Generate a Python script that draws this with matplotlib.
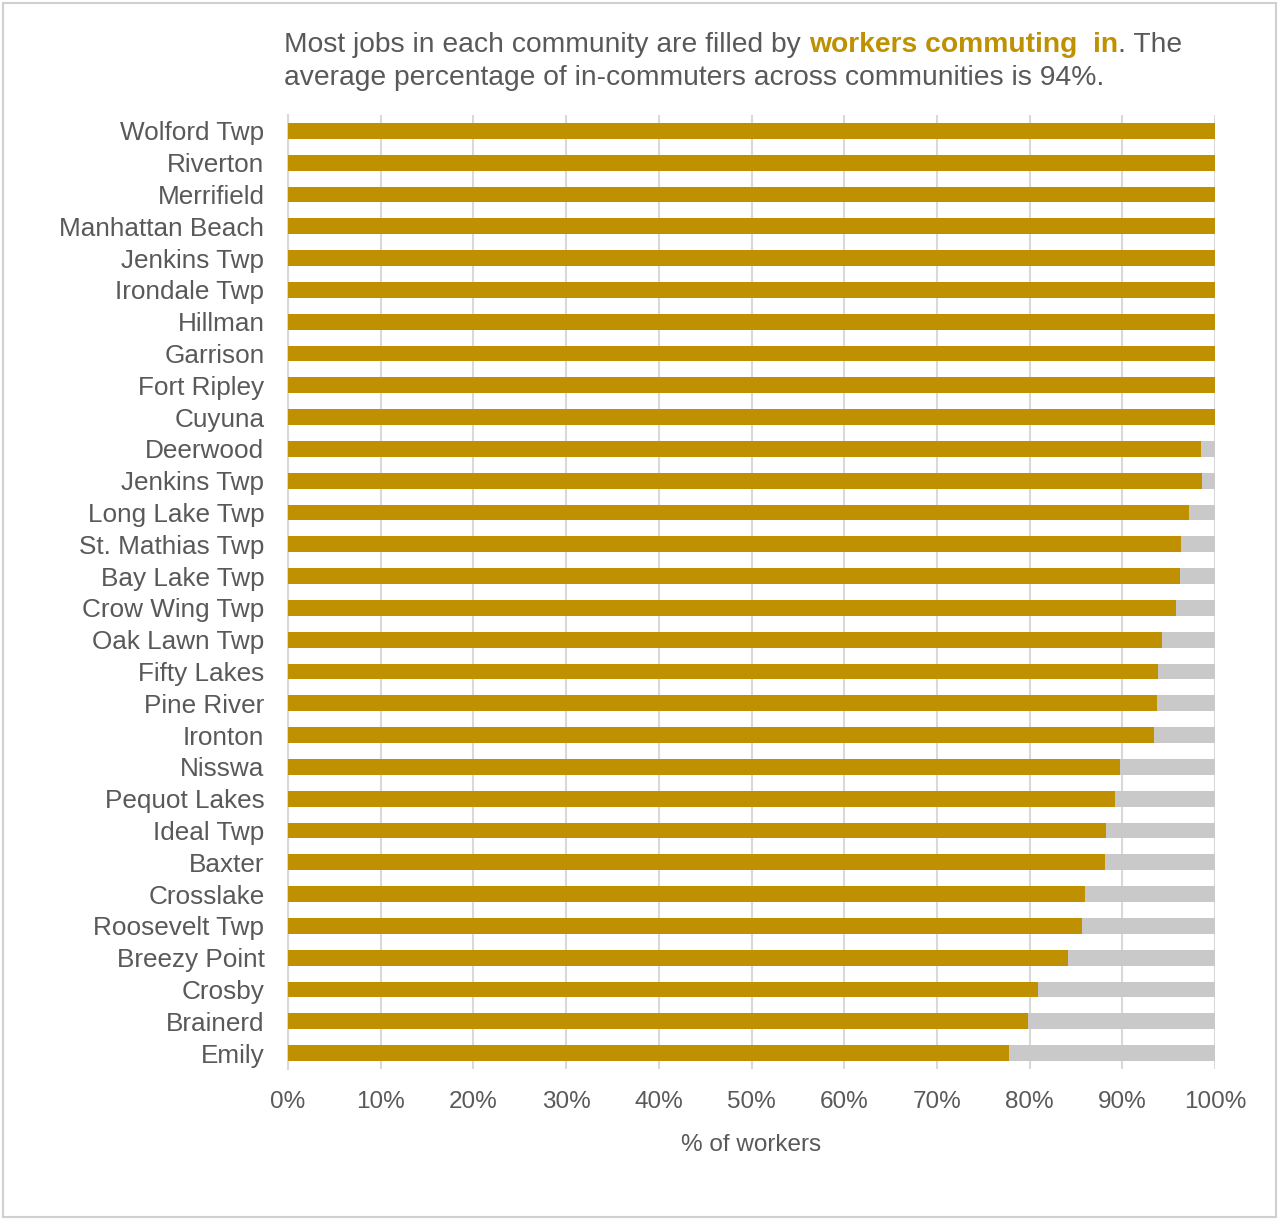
import matplotlib
matplotlib.use("Agg")
import matplotlib.pyplot as plt
from matplotlib.patches import Rectangle
import numpy as np

communities = ["Wolford Twp", "Riverton", "Merrifield", "Manhattan Beach", "Jenkins Twp",
               "Irondale Twp", "Hillman", "Garrison", "Fort Ripley", "Cuyuna", "Deerwood",
               "Jenkins Twp", "Long Lake Twp", "St. Mathias Twp", "Bay Lake Twp",
               "Crow Wing Twp", "Oak Lawn Twp", "Fifty Lakes", "Pine River", "Ironton",
               "Nisswa", "Pequot Lakes", "Ideal Twp", "Baxter", "Crosslake",
               "Roosevelt Twp", "Breezy Point", "Crosby", "Brainerd", "Emily"]
commuting_in = [100, 100, 100, 100, 100, 100, 100, 100, 100, 100,
                98.5, 98.6, 97.2, 96.3, 96.2, 95.8, 94.3, 93.9, 93.7, 93.4,
                89.8, 89.2, 88.2, 88.1, 86.0, 85.7, 84.1, 80.9, 79.8, 77.8]
other = [100 - v for v in commuting_in]
xticks = [0, 10, 20, 30, 40, 50, 60, 70, 80, 90, 100]
xtick_labels = [f"{t}%" for t in xticks]

GOLD = "#BF9000"
GREY = "#C9C9C9"
TXT = "#595959"
FONT = "Liberation Sans"
plt.rcParams["font.family"] = [FONT, "DejaVu Sans"]

W, H = 1279, 1220
fig = plt.figure(figsize=(W / 100, H / 100), dpi=100)
fig.patch.set_facecolor("white")
# figure border
fig.add_artist(Rectangle((3 / W, 3 / H), (W - 6) / W, (H - 6) / H, transform=fig.transFigure,
                         fill=False, edgecolor="#D0D0D0", linewidth=1.5))

left, right, top, bottom = 288, 1215, 115, 1069
ax = fig.add_axes([left / W, 1 - bottom / H, (right - left) / W, (bottom - top) / H])

y = np.arange(len(communities))
ax.barh(y, commuting_in, height=0.5, color=GOLD, zorder=3)
ax.barh(y, other, left=commuting_in, height=0.5, color=GREY, zorder=3)
ax.set_ylim(len(communities) - 0.5, -0.5)
ax.set_xlim(0, 100)
ax.set_yticks(y)
ax.set_yticklabels(communities, fontsize=18.8, color=TXT)
ax.set_xticks(xticks)
ax.set_xticklabels(xtick_labels, fontsize=17.5, color=TXT)
ax.tick_params(axis="both", length=0)
ax.tick_params(axis="y", pad=17)
ax.tick_params(axis="x", pad=16)
ax.xaxis.grid(True, color="#D9D9D9", linewidth=1.5, zorder=0)
for s in ["top", "right", "bottom"]:
    ax.spines[s].set_visible(False)
ax.spines["left"].set_color("#D9D9D9")
ax.spines["left"].set_linewidth(1.5)
ax.set_xlabel("% of workers", fontsize=17.5, color=TXT, labelpad=15)

# Title with mixed colours
fig.canvas.draw()
renderer = fig.canvas.get_renderer()
x0 = 284 / W
y1 = 1 - 52 / H
pieces = [("Most jobs in each community are filled by ", TXT, "normal"),
          ("workers commuting  in", GOLD, "bold"),
          (". The", TXT, "normal")]
x = x0
for txt, col, wt in pieces:
    t = fig.text(x, y1, txt, fontsize=20.3, color=col, fontweight=wt, ha="left", va="baseline")
    bb = t.get_window_extent(renderer)
    x = x + bb.width / W
fig.text(x0, 1 - 85 / H, "average percentage of in-commuters across communities is 94%.",
         fontsize=20.3, color=TXT, ha="left", va="baseline")

fig.savefig("out.png", dpi=100, facecolor="white")
